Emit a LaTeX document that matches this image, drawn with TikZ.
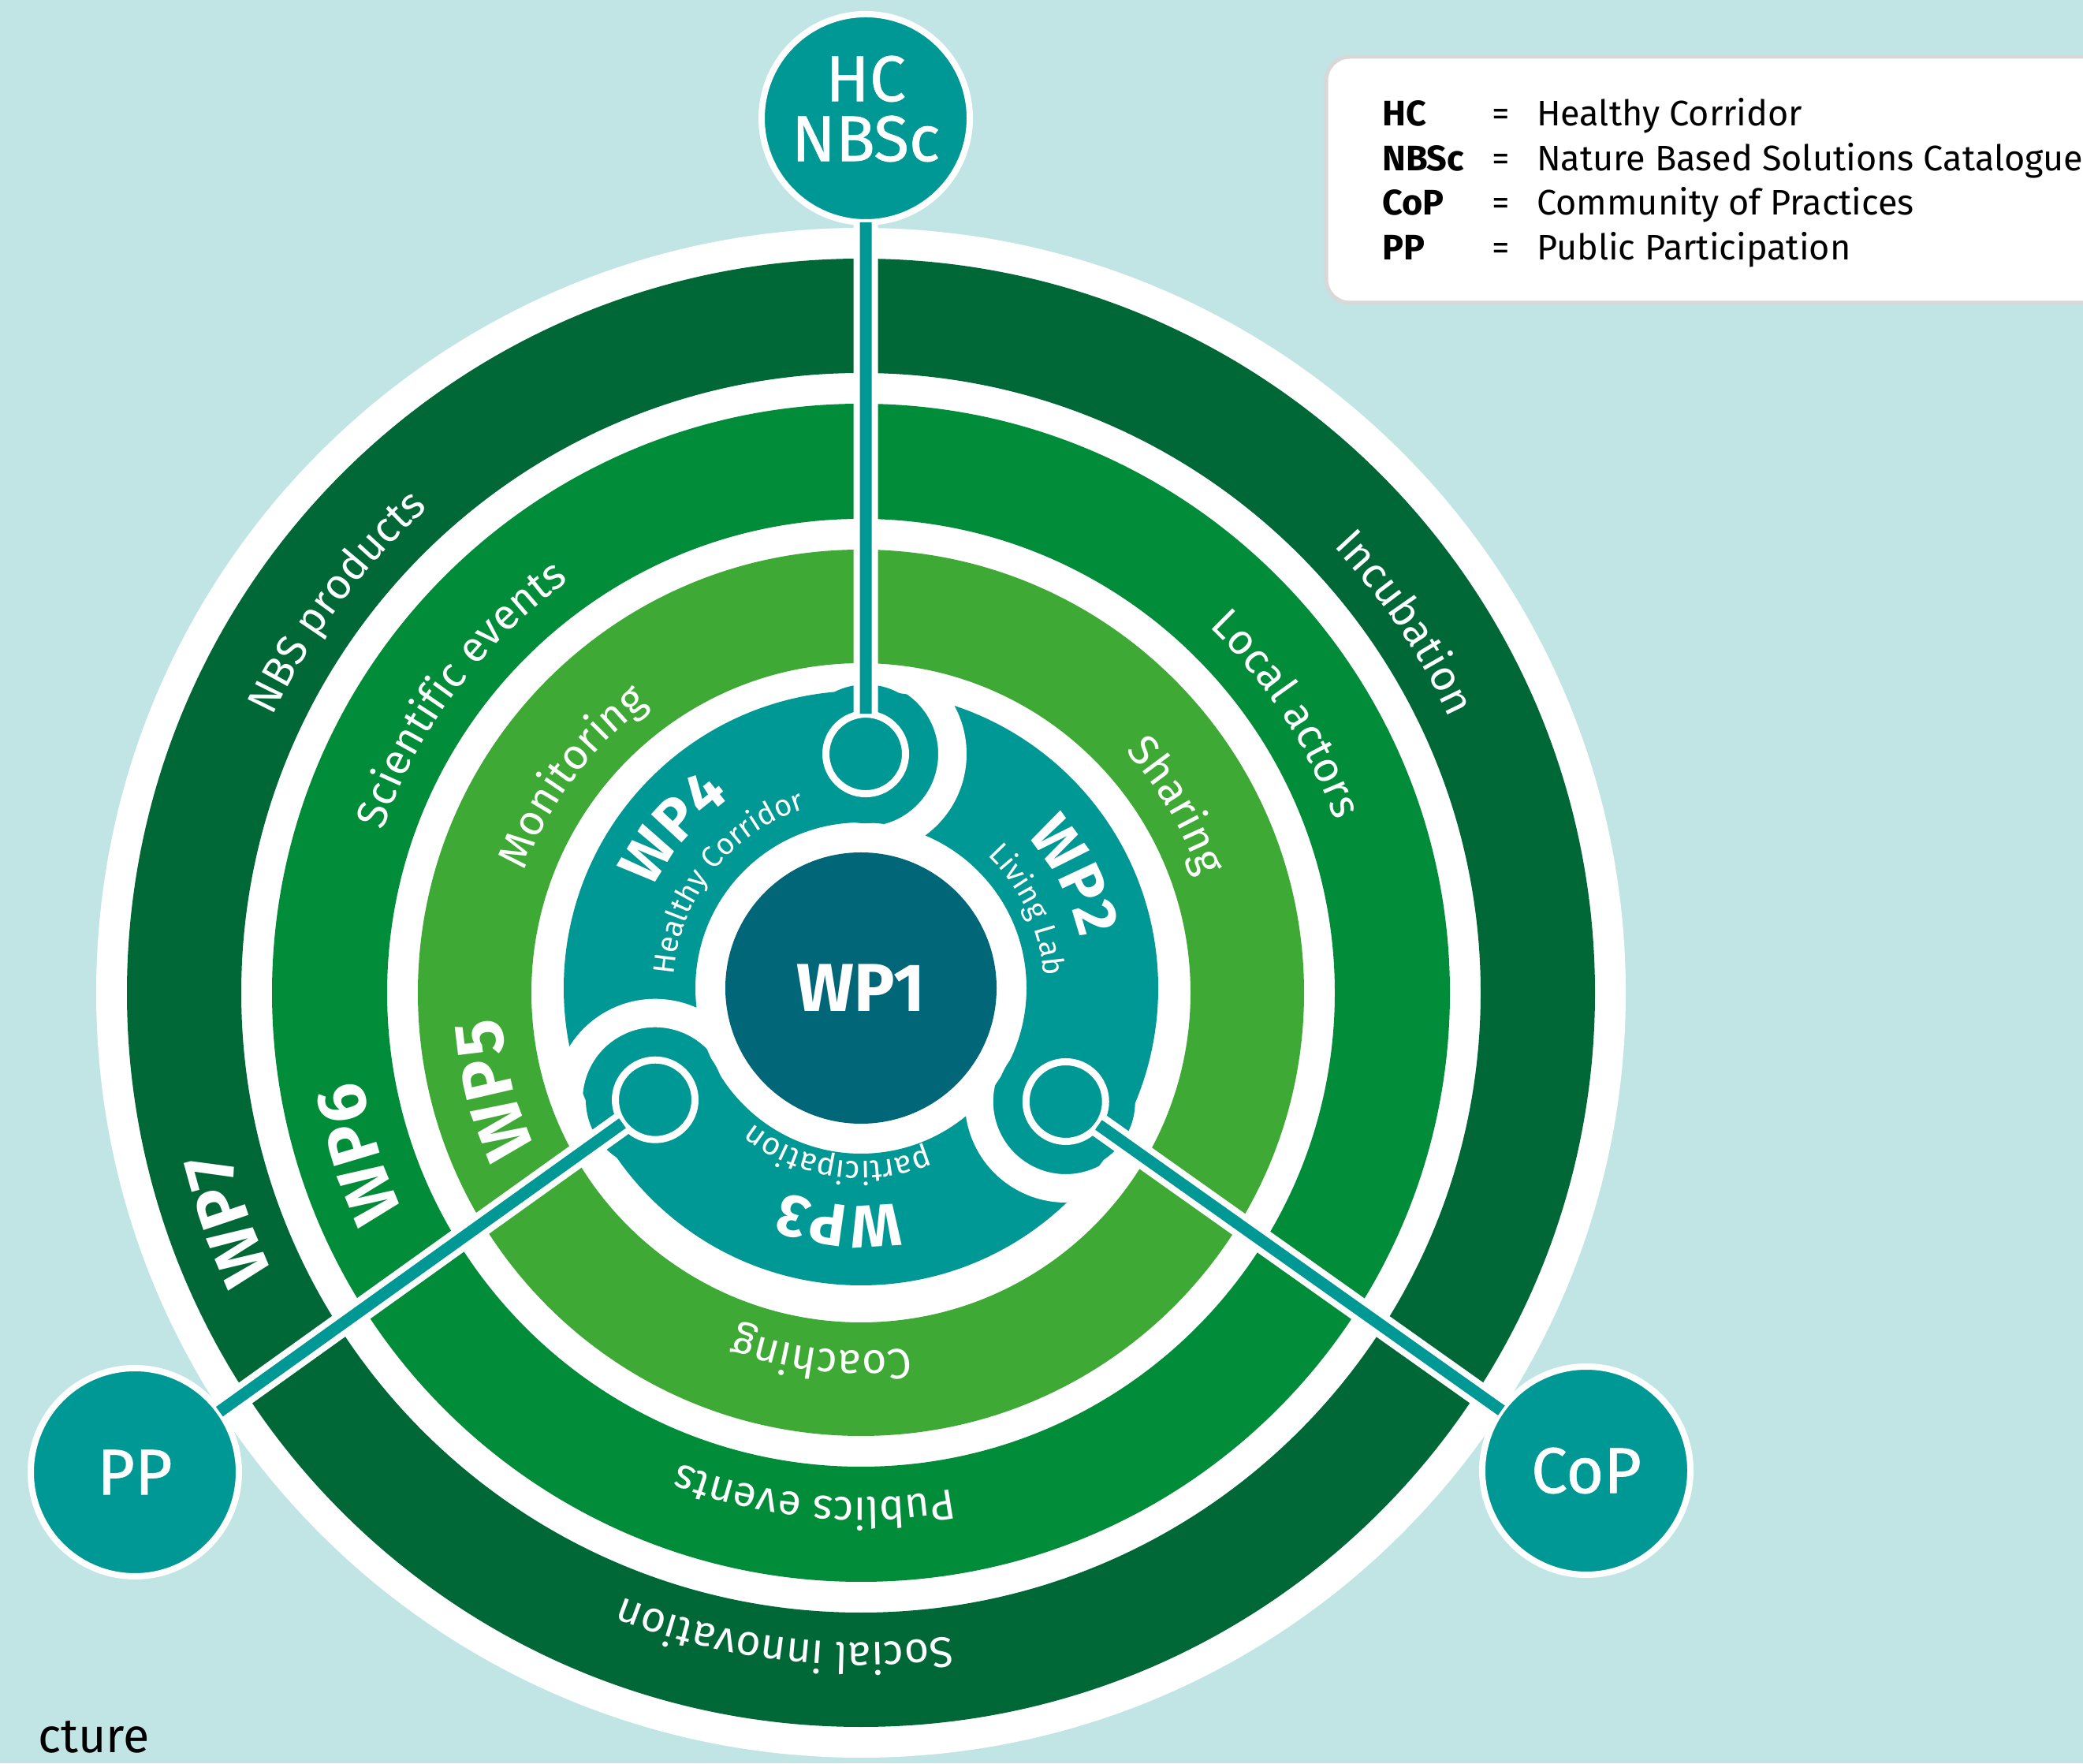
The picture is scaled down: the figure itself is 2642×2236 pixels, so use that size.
\documentclass[tikz,border=0pt]{standalone}
\usepackage{fontspec}
\setmainfont{Fira Sans}
\usetikzlibrary{calc,decorations.text}
\definecolor{bgblue}{HTML}{C0E5E4}
\definecolor{dkgreen}{HTML}{006837}
\definecolor{mdgreen}{HTML}{008C39}
\definecolor{ltgreen}{HTML}{3EAA35}
\definecolor{tealc}{HTML}{009894}
\definecolor{wpone}{HTML}{006678}
\definecolor{legborder}{HTML}{D8D8D8}
\newcommand\ringlabelc[5]{\path[decorate,decoration={text along path,text align=center,text={|#4|#5}}] ($(#1)+(#2+80:#3)$) arc[start angle=#2+80,end angle=#2-80,radius=#3];}
\newcommand\ringlabell[5]{\path[decorate,decoration={text along path,text align=left,text={|#4|#5}}] ($(#1)+(#2:#3)$) arc[start angle=#2,end angle=#2-120,radius=#3];}
\newcommand\lblfont{\color{white}\fontsize{54}{54}\selectfont}
\newcommand\wpfont{\color{white}\bfseries\fontsize{87}{87}\selectfont}
\newcommand\wpinfont{\color{white}\bfseries\fontsize{76}{76}\selectfont}
\newcommand\subfont{\color{white}\fontsize{38}{38}\selectfont}
\newcommand\subfontb{\color{white}\fontsize{40}{40}\selectfont}
\tikzset{
  hub/.style={circle, fill=tealc, draw=white, line width=8pt, minimum size=264pt, inner sep=0pt},
  hubtext/.style={inner sep=0pt, text=white, align=center, font=\fontsize{82}{76}\selectfont\addfontfeature{FakeBold=0.8}},
  port/.style={circle, fill=tealc, draw=white, line width=9pt, minimum size=101pt, inner sep=0pt},
  wpdisk/.style={circle, fill=wpone, minimum size=344pt, inner sep=0pt, text=white, font=\bfseries\fontsize{86}{86}\selectfont},
  conn/.style={draw=white, line width=8pt, double=tealc, double distance=15pt, shorten <=-4pt, shorten >=-4pt},
  legabbr/.style={anchor=base west, inner sep=0pt, font=\bfseries\fontsize{45}{45}\selectfont},
  legeq/.style={anchor=base, inner sep=0pt, font=\fontsize{45}{45}\selectfont},
  legdef/.style={anchor=base west, inner sep=0pt, font=\fontsize{45}{45}\selectfont},
  channel/.style={white, line width=36pt},
}
\begin{document}
\begin{tikzpicture}[x=1pt,y=1pt]
\useasboundingbox (0,0) rectangle (2642,2236);
\fill[bgblue] (0,0) rectangle (2642,2236);
\coordinate (C) at (1092,983);
\coordinate (G) at (1092,977);
\fill[white] (G) circle[radius=970pt];
\fill[dkgreen,even odd rule] (G) circle[radius=931pt] (G) circle[radius=786pt];
\fill[mdgreen,even odd rule] (G) circle[radius=747pt] (G) circle[radius=601pt];
\fill[tealc,even odd rule] (C) circle[radius=377pt] (C) circle[radius=210pt];
\coordinate (pT) at ($(C)+(88.84:297pt)$);
\coordinate (pL) at ($(C)+(208.5:297pt)$);
\coordinate (pR) at ($(C)+(331:297pt)$);
\foreach \p/\a in {pT/88.84,pL/208.5,pR/331}{
  \fill[tealc] (\p) circle[radius=88pt];
  \draw[channel] ($(\p)+(\a:110pt)$) arc[start angle=\a,end angle=\a-180,radius=110pt];
}
\fill[ltgreen,even odd rule] (G) circle[radius=562pt] (G) circle[radius=418pt];
\node[wpdisk] (wp1) at (C) {WP1};
\node[port] (nT) at (pT) {};
\node[port] (nL) at (pL) {};
\node[port] (nR) at (pR) {};
\node[hub] (HC) at (1098,2086) {};
\node[hub] (PP) at (171,369) {};
\node[hub] (CoP) at (2012,371) {};
\node[hubtext] (HCt) at ($(HC)+(0,12)$) {HC\\NBSc};
\node[hubtext] (PPt) at (PP) {PP};
\node[hubtext] (CoPt) at (CoP) {CoP};
\draw[conn] (nT) -- (HC);
\draw[conn] (nL) -- (PP);
\draw[conn] (nR) -- (CoP);
\ringlabelc{G}{143.3}{824pt}{\lblfont}{NBS products}
\ringlabelc{G}{143.3}{640pt}{\lblfont}{Scientific events}
\ringlabelc{G}{143.3}{454pt}{\lblfont}{Monitoring}
\ringlabelc{G}{34.2}{824pt}{\lblfont}{Incubation}
\ringlabelc{G}{33.2}{640pt}{\lblfont}{Local actors}
\ringlabelc{G}{30.7}{454pt}{\lblfont}{Sharing}
\ringlabelc{G}{263.2}{824pt}{\lblfont}{Social innovation}
\ringlabelc{G}{264.7}{640pt}{\lblfont}{Publics events}
\ringlabelc{G}{263.8}{454pt}{\lblfont}{Coaching}
\ringlabell{G}{205.5}{826pt}{\wpfont}{WP7}
\ringlabell{G}{205.5}{643pt}{\wpfont}{WP6}
\ringlabell{G}{205.5}{457pt}{\wpfont}{WP5}
\ringlabelc{C}{139.5}{292pt}{\wpinfont}{WP4}
\ringlabelc{C}{27.7}{285pt}{\wpinfont}{WP2}
\ringlabelc{C}{264.7}{276pt}{\wpinfont}{WP3}
\ringlabelc{C}{141.6}{238pt}{\subfont}{Healthy Corridor}
\ringlabelc{C}{25}{232pt}{\subfont}{Living Lab}
\ringlabelc{C}{261.9}{220pt}{\subfontb}{participation}
\path[draw=legborder, line width=5pt, fill=white, rounded corners=30pt] (1682,1852) rectangle (2720,2164);
\node[legabbr] (aHC) at (1753,2076) {HC};
\node[legabbr] (aNB) at (1753,2019) {NBSc};
\node[legabbr] (aCo) at (1753,1963) {CoP};
\node[legabbr] (aPP) at (1753,1906) {PP};
\node[legeq] (eHC) at (1904,2076) {=};
\node[legeq] (eNB) at (1904,2019) {=};
\node[legeq] (eCo) at (1904,1963) {=};
\node[legeq] (ePP) at (1904,1906) {=};
\node[legdef] (dHC) at (1949,2076) {Healthy Corridor};
\node[legdef] (dNB) at (1949,2019) {Nature Based Solutions Catalogue};
\node[legdef] (dCo) at (1949,1963) {Community of Practices};
\node[legdef] (dPP) at (1949,1906) {Public Participation};
\node[anchor=base west, inner sep=0pt, font=\fontsize{61}{61}\selectfont] (cap) at (48,14) {cture};
\end{tikzpicture}
\end{document}
